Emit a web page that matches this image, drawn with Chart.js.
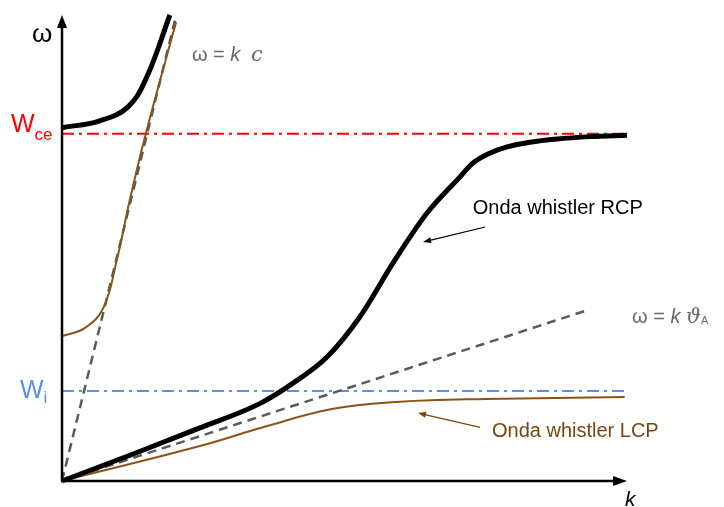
<!DOCTYPE html>
<html>
<head>
<meta charset="utf-8">
<script src="https://cdn.jsdelivr.net/npm/chart.js@4/dist/chart.umd.min.js"></script>
<style>
html,body{margin:0;padding:0;background:#fff;}
#wrap{width:724px;height:507px;position:relative;}
</style>
</head>
<body>
<div id="wrap"><canvas id="c"></canvas></div>
<script>
// ---- axis ranges (arbitrary units) ----
const kRange = [0, 10];
const wRange = [0, 10];
// characteristic frequencies
const wCe = 7.45;
const wI = 1.93;
const guideK = [0, 10];

// upper R branch (black, above Wce)
const upperRK = [0, 0.67, 1.17, 1.50, 1.91];
const upperRW = [7.58, 7.73, 8.03, 8.67, 10.0];
// upper L branch (brown)
const upperLK = [0, 0.40, 0.73, 0.97, 1.20, 1.50, 2.02];
const upperLW = [3.11, 3.28, 3.71, 4.74, 6.03, 7.53, 9.85];
// whistler RCP (black)
const rcpK = [0, 1.26, 2.44, 3.50, 4.09, 4.69, 5.27, 5.86, 6.46, 7.04, 7.27, 7.58, 7.88, 8.28, 8.76, 9.35, 10.0];
const rcpW = [0, 0.58, 1.14, 1.66, 2.10, 2.66, 3.52, 4.68, 5.75, 6.52, 6.82, 7.04, 7.17, 7.27, 7.34, 7.39, 7.42];
// whistler LCP (brown)
const lcpK = [0, 2.44, 3.63, 4.80, 5.98, 7.50, 9.96];
const lcpW = [0, 0.75, 1.18, 1.55, 1.70, 1.76, 1.80];
// light line w = k c and Alfven line w = k vA
const lightK = [0, 2.0];
const lightW = [0, 9.89];
const alfvenK = [0, 9.31];
const alfvenW = [0, 3.67];

// annotation anchors (data units)
const rcpLabel = {text: 'Onda whistler RCP', k: 7.27, w: 5.73, arrow: [[7.49, 5.45], [6.39, 5.13]]};
const lcpLabel = {text: 'Onda whistler LCP', k: 7.61, w: 0.95, arrow: [[7.40, 1.15], [6.30, 1.46]]};
const lightLabel = {k: 2.30, w: 9.01};
const alfvenLabel = {k: 10.09, w: 3.39};

const pts = (ks, ws) => ks.map((k, i) => ({x: k, y: ws[i]}));

const BROWN = '#8b5316';
const RED = '#ff0000';
const BLUE = '#5a8ee8';
const GRAY = '#5a5a5a';
const TXTGRAY = '#6a6a6a';
const FONT = '"Liberation Sans", Arial, sans-serif';

const decor = {
  id: 'decor',
  afterDatasetsDraw(chart) {
    const {ctx, chartArea: a, scales: {x, y}} = chart;
    ctx.save();
    // axes with arrows
    ctx.strokeStyle = '#000'; ctx.fillStyle = '#000'; ctx.lineWidth = 2.5;
    ctx.beginPath(); ctx.moveTo(a.left, a.bottom); ctx.lineTo(a.left, a.top + 8); ctx.stroke();
    ctx.beginPath(); ctx.moveTo(a.left, a.top); ctx.lineTo(a.left - 5, a.top + 13); ctx.lineTo(a.left + 5, a.top + 13); ctx.closePath(); ctx.fill();
    ctx.beginPath(); ctx.moveTo(a.left - 1, a.bottom); ctx.lineTo(a.right - 8, a.bottom); ctx.stroke();
    ctx.beginPath(); ctx.moveTo(a.right, a.bottom); ctx.lineTo(a.right - 14, a.bottom - 5); ctx.lineTo(a.right - 14, a.bottom + 5); ctx.closePath(); ctx.fill();

    ctx.textBaseline = 'alphabetic';
    ctx.textAlign = 'left';
    // omega label
    ctx.fillStyle = '#000';
    ctx.font = '26px ' + FONT;
    ctx.fillText('ω', a.left - 30, a.top + 27);
    // k label
    ctx.font = 'italic 21px ' + FONT;
    ctx.fillText('k', a.right - 2, a.bottom + 25);

    // Wce
    const yce = y.getPixelForValue(wCe);
    ctx.fillStyle = RED;
    ctx.font = '25px ' + FONT;
    ctx.fillText('W', 11, yce - 2);
    let wW = ctx.measureText('W').width;
    ctx.font = '17px ' + FONT;
    ctx.fillText('ce', 11 + wW, yce + 6);
    // Wi
    const yi = y.getPixelForValue(wI);
    ctx.fillStyle = BLUE;
    ctx.font = '25px ' + FONT;
    ctx.fillText('W', 20, yi + 7);
    wW = ctx.measureText('W').width;
    ctx.font = '17px ' + FONT;
    ctx.fillText('i', 20 + wW, yi + 12);

    // annotations
    function arrow(p0, p1, color) {
      const x0 = x.getPixelForValue(p0[0]), y0 = y.getPixelForValue(p0[1]);
      const x1 = x.getPixelForValue(p1[0]), y1 = y.getPixelForValue(p1[1]);
      const ang = Math.atan2(y1 - y0, x1 - x0);
      ctx.strokeStyle = color; ctx.fillStyle = color; ctx.lineWidth = 1.2;
      ctx.beginPath(); ctx.moveTo(x0, y0); ctx.lineTo(x1 - 6 * Math.cos(ang), y1 - 6 * Math.sin(ang)); ctx.stroke();
      ctx.beginPath();
      ctx.moveTo(x1, y1);
      ctx.lineTo(x1 - 8 * Math.cos(ang) + 3 * Math.sin(ang), y1 - 8 * Math.sin(ang) - 3 * Math.cos(ang));
      ctx.lineTo(x1 - 8 * Math.cos(ang) - 3 * Math.sin(ang), y1 - 8 * Math.sin(ang) + 3 * Math.cos(ang));
      ctx.closePath(); ctx.fill();
    }
    ctx.font = '20px ' + FONT;
    ctx.fillStyle = '#000';
    ctx.fillText(rcpLabel.text, x.getPixelForValue(rcpLabel.k), y.getPixelForValue(rcpLabel.w));
    arrow(rcpLabel.arrow[0], rcpLabel.arrow[1], '#000');
    ctx.font = '20px ' + FONT;
    ctx.fillStyle = '#7a4510';
    ctx.fillText(lcpLabel.text, x.getPixelForValue(lcpLabel.k), y.getPixelForValue(lcpLabel.w));
    arrow(lcpLabel.arrow[0], lcpLabel.arrow[1], '#7a4510');

    // w = k c
    function segs(list, px, py) {
      let cx = px;
      for (const s of list) {
        ctx.font = s.f;
        ctx.fillText(s.t, cx, py + (s.dy || 0));
        cx += ctx.measureText(s.t).width;
      }
    }
    ctx.fillStyle = TXTGRAY;
    segs([
      {t: 'ω = ', f: '20px ' + FONT},
      {t: 'k', f: 'italic 20px ' + FONT},
      {t: '  ', f: '19px ' + FONT},
      {t: 'c', f: 'italic 21px "DejaVu Serif", serif'}
    ], x.getPixelForValue(lightLabel.k), y.getPixelForValue(lightLabel.w));
    segs([
      {t: 'ω = ', f: '20px ' + FONT},
      {t: 'k', f: 'italic 20px ' + FONT},
      {t: ' ', f: '20px ' + FONT},
      {t: 'ϑ', f: 'italic 21px "DejaVu Serif", serif'},
      {t: 'A', f: '11px ' + FONT, dy: 1}
    ], x.getPixelForValue(alfvenLabel.k), y.getPixelForValue(alfvenLabel.w));
    ctx.restore();
  }
};

new Chart(document.getElementById('c'), {
  type: 'line',
  data: {
    datasets: [
      {data: pts(upperRK, upperRW), borderColor: '#000', borderWidth: 5, tension: 0.4, order: 1},
      {data: pts(rcpK, rcpW), borderColor: '#000', borderWidth: 5, cubicInterpolationMode: 'monotone', order: 1},
      {data: pts(upperLK, upperLW), borderColor: BROWN, borderWidth: 2, tension: 0.4, order: 2},
      {data: pts(lcpK, lcpW), borderColor: BROWN, borderWidth: 2, tension: 0.4, order: 2},
      {data: pts(lightK, lightW), borderColor: GRAY, borderWidth: 2.5, borderDash: [9, 6], order: 3},
      {data: pts(alfvenK, alfvenW), borderColor: GRAY, borderWidth: 2.5, borderDash: [9, 6], order: 3},
      {data: pts(guideK, [wCe, wCe]), borderColor: RED, borderWidth: 2, borderDash: [12, 5, 3, 5], order: 4},
      {data: pts(guideK, [wI, wI]), borderColor: BLUE, borderWidth: 2, borderDash: [12, 5, 3, 5], order: 4}
    ]
  },
  options: {
    responsive: true,
    maintainAspectRatio: false,
    animation: false,
    devicePixelRatio: 1,
    layout: {padding: {left: 62, right: 97, top: 15, bottom: 26}},
    elements: {point: {radius: 0, hoverRadius: 0}, line: {fill: false, borderCapStyle: 'butt'}},
    datasets: {line: {clip: false}},
    plugins: {legend: {display: false}, tooltip: {enabled: false}},
    scales: {
      x: {type: 'linear', min: kRange[0], max: kRange[1], display: false},
      y: {type: 'linear', min: wRange[0], max: wRange[1], display: false}
    }
  },
  plugins: [decor]
});
</script>
</body>
</html>
